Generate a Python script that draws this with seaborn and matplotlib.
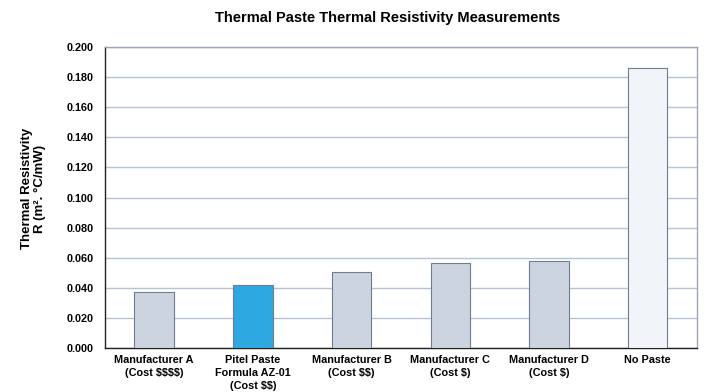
import matplotlib
matplotlib.use("Agg")
import matplotlib.pyplot as plt
import seaborn as sns
import pandas as pd
import numpy as np

categories = ["Manufacturer A\n(Cost $$$$)", "Pitel Paste\nFormula AZ-01\n(Cost $$)",
              "Manufacturer B\n(Cost $$)", "Manufacturer C\n(Cost $)",
              "Manufacturer D\n(Cost $)", "No Paste"]
values = [0.0373, 0.0416, 0.0507, 0.0562, 0.0580, 0.1862]
bar_colors = ["#CCD5DF", "#2EA8E0", "#CCD5DF", "#CCD5DF", "#CCD5DF", "#F1F5FA"]
yticks = [0.0, 0.02, 0.04, 0.06, 0.08, 0.10, 0.12, 0.14, 0.16, 0.18, 0.20]

sns.set_style("white")
plt.rcParams['font.family'] = ['Liberation Sans', 'DejaVu Sans']
plt.rcParams['text.parse_math'] = False
plt.rcParams['text.color'] = 'black'
plt.rcParams['xtick.color'] = 'black'
plt.rcParams['ytick.color'] = 'black'
plt.rcParams['axes.labelcolor'] = 'black'

df = pd.DataFrame({"cat": categories, "val": values})

fig = plt.figure(figsize=(7.04, 3.92), dpi=100)
ax = fig.add_axes([0.149, 0.112, 0.841, 0.768])

sns.barplot(data=df, x="cat", y="val", hue="cat", palette=bar_colors, legend=False,
            saturation=1, width=0.4, edgecolor="#6F7D93", linewidth=0.8, ax=ax, zorder=3)

ax.set_ylim(0, 0.2)
ax.set_xlim(-0.5, len(categories) - 0.5)
ax.set_yticks(yticks)
ax.set_yticklabels([f"{t:.3f}" for t in yticks], fontsize=7.8, fontweight="bold")
ax.set_xticks(range(len(categories)))
ax.set_xticklabels(categories, fontsize=7.8, fontweight="bold", linespacing=1.35)
ax.tick_params(axis="y", length=0, pad=8)
ax.tick_params(axis="x", length=0, pad=5)
ax.yaxis.grid(True, color="#B7C2D2", linewidth=1.0, zorder=0)
ax.set_axisbelow(True)

for s in ["left", "bottom"]:
    ax.spines[s].set_color("#222222")
    ax.spines[s].set_linewidth(1.0)
for s in ["top", "right"]:
    ax.spines[s].set_color("#9AA6B8")
    ax.spines[s].set_linewidth(1.0)

ax.set_xlabel("")
ax.set_ylabel("Thermal Resistivity\nR (m². °C/mW)", fontsize=9.5, fontweight="bold",
              linespacing=1.1, va="center")
ax.yaxis.set_label_coords(-0.12, 0.53)
fig.text(0.55, 0.953, "Thermal Paste Thermal Resistivity Measurements",
         ha="center", va="center", fontsize=10.5, fontweight="bold")

fig.savefig("out.png", dpi=100)
